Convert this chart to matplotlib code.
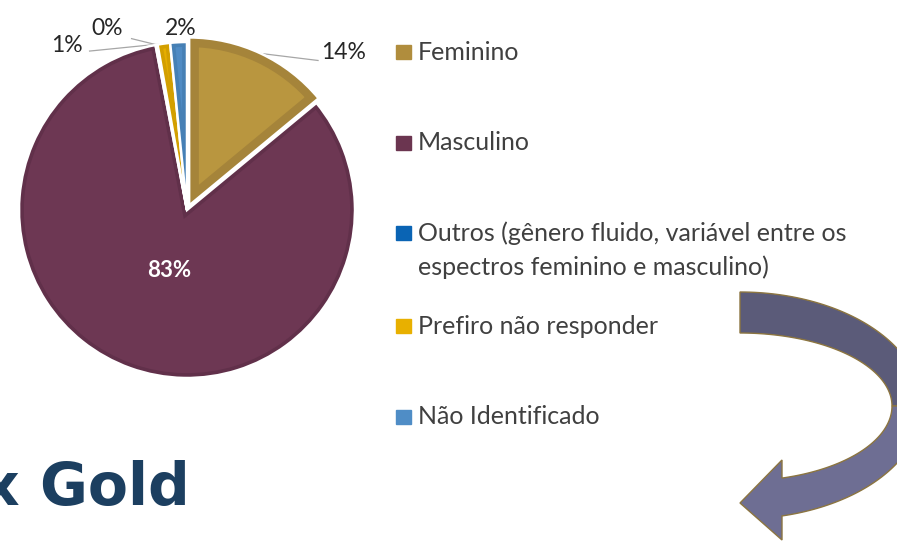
import numpy as np
import matplotlib
matplotlib.use("Agg")
import matplotlib.pyplot as plt
from matplotlib.patches import Polygon, Rectangle, Wedge

plt.rcParams['font.family'] = ['Lato', 'DejaVu Sans']

# ---- data ----
categories = ["Feminino", "Masculino",
              "Outros (gênero fluido, variável entre os\nespectros feminino e masculino)",
              "Prefiro não responder", "Não Identificado"]
values = [14.0, 83.0, 0.2, 1.2, 1.6]
colors = ["#B9963F", "#6D3753", "#0563C1", "#E6AE00", "#4F8BC4"]
bevel_colors = ["#A5843A", "#61304A", "#0558AA", "#D39F00", "#4680B5"]
legend_colors = ["#B08D3D", "#6B3550", "#0A64B4", "#E8B000", "#4F8DC6"]
explode = [0.03, 0, 0, 0, 0]

W, H = 897, 541
fig = plt.figure(figsize=(W / 100, H / 100), dpi=100)

# overlay axes in pixel coordinates for decorations
ov = fig.add_axes([0, 0, 1, 1])
ov.set_xlim(0, W)
ov.set_ylim(H, 0)
ov.axis("off")

# ---- pie ----
cx, cy, r = 187, 210, 168
lim = 1.3
size = r * lim * 2
pax = fig.add_axes([(cx - size / 2) / W, (H - cy - size / 2) / H, size / W, size / H])
wedges, _ = pax.pie(values, colors=colors, startangle=90, counterclock=False,
                    explode=explode, radius=1.0,
                    wedgeprops=dict(edgecolor="none", linewidth=0))
pax.set_xlim(-lim, lim)
pax.set_ylim(-lim, lim)
pax.set_aspect("equal")
pax.axis("off")

# bevel effect + white separators
for w, bc, i in zip(wedges, bevel_colors, range(len(wedges))):
    inner = Wedge(w.center, w.r, w.theta1, w.theta2, facecolor="none",
                  edgecolor=bc, lw=14 if i == 0 else 7)
    pax.add_patch(inner)
    inner.set_clip_path(w)
    outline = Wedge(w.center, w.r, w.theta1, w.theta2, facecolor="none",
                    edgecolor="white", lw=1.8)
    pax.add_patch(outline)

# label positions (pie data units) and whether to draw a leader line
label_pos = [(0.80, 0.935, "left", True), (-0.107, -0.363, "center", False),
             (-0.476, 1.083, "center", True), (-0.714, 0.982, "center", True),
             (-0.036, 1.083, "center", False)]
leader_start = [(0.78, 0.89), None, (-0.33, 1.02), (-0.58, 0.946), None]
for i, (w, v) in enumerate(zip(wedges, values)):
    lx, ly, ha, lead = label_pos[i]
    txt = f"{round(v)}%"
    if i == 1:
        pax.text(lx, ly, txt, ha=ha, va="center", color="white",
                 fontsize=16, fontweight="bold")
    else:
        pax.text(lx, ly, txt, ha=ha, va="center", color="#262626", fontsize=16.5)
    if lead:
        ang = np.deg2rad((w.theta1 + w.theta2) / 2)
        ex, ey = w.center[0] + w.r * np.cos(ang), w.center[1] + w.r * np.sin(ang)
        sx, sy = leader_start[i]
        pax.plot([sx, ex], [sy, ey], color="#A6A6A6", lw=0.9, zorder=0)

# ---- legend (manual) ----
leg_y = [52, 143, 233, 326, 417]
for name, col, y in zip(categories, legend_colors, leg_y):
    ov.add_patch(Rectangle((396, y - 7), 15, 14, color=col))
    lines = name.split("\n")
    for k, line in enumerate(lines):
        ov.text(418, y + 34 * k, line, ha="left", va="center", fontsize=18,
                color="#404040")

# ---- "x Gold" text ----
ov.text(190, 505, "x Gold", ha="right", va="baseline", fontsize=42,
        fontweight="bold", color="#1C3F60", family="DejaVu Sans")

# ---- curved arrow ----
ecx, ecy = 740, 406
ao, bo = 182, 114
ai, bi = 152, 73
t_up = np.linspace(np.pi / 2, 0, 60)
upper = np.vstack([
    np.column_stack([ecx + ao * np.cos(t_up), ecy - bo * np.sin(t_up)]),
    np.column_stack([ecx + ai * np.cos(t_up[::-1]), ecy - bi * np.sin(t_up[::-1])]),
])
ov.add_patch(Polygon(upper, closed=True, facecolor="#5B5B79", edgecolor="#8C7540", lw=1.0))

bo2, bi2 = 113, 75
to_end = np.arccos(42 / ao)
ti_end = np.arccos(42 / ai)
t_lo_o = np.linspace(0, to_end, 60)
t_lo_i = np.linspace(ti_end, 0, 60)
lower = np.vstack([
    np.column_stack([ecx + ao * np.cos(t_lo_o), ecy + bo2 * np.sin(t_lo_o)]),
    [[782, 540], [740, 503], [782, 460]],
    np.column_stack([ecx + ai * np.cos(t_lo_i), ecy + bi2 * np.sin(t_lo_i)]),
])
ov.add_patch(Polygon(lower, closed=True, facecolor="#6E6E93", edgecolor="#8C7540", lw=1.0))

fig.savefig("out.png", dpi=100, facecolor="white")
